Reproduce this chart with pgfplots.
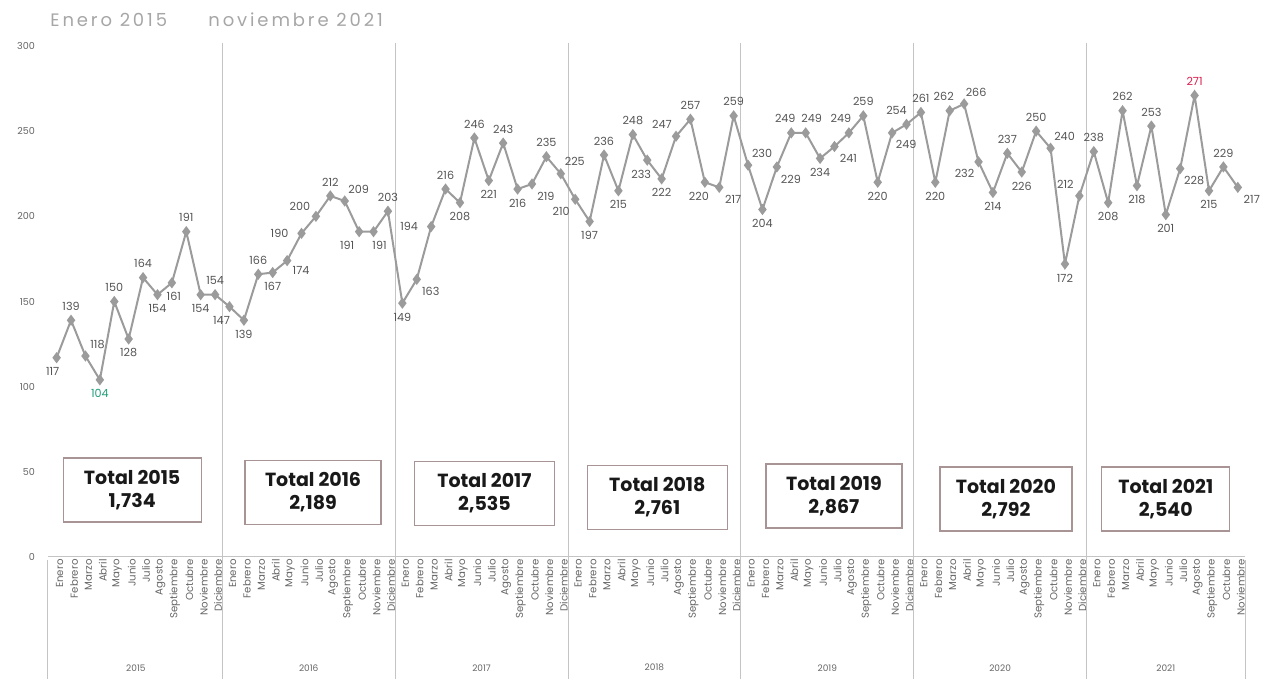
\documentclass[border=0pt]{standalone}
\usepackage{pgfplots}
\pgfplotsset{compat=1.18}
\usepackage{pgfplotstable}
\usepackage{fontspec}
\setmainfont{Poppins}
\newfontfamily\titlefont[LetterSpace=16]{Poppins}

\definecolor{linec}{HTML}{9B9B9B}
\definecolor{lab0}{HTML}{555555}
\definecolor{lab1}{HTML}{1E9E78}
\definecolor{lab2}{HTML}{D81E4E}
\definecolor{sepc}{HTML}{C4C4C4}
\definecolor{boxc}{HTML}{A89494}
\definecolor{tickc}{HTML}{666666}

\pgfplotstableread{
x y dx dy c
0 117 -2 -7 0
1 139 0 7 0
2 118 6 6 0
3 104 0 -7 1
4 150 0 7 0
5 128 0 -7 0
6 164 0 7 0
7 154 0 -7 0
8 161 1 -7 0
9 191 0 7 0
10 154 0 -7 0
11 154 0 7 0
12 147 -4 -7 0
13 139 0 -7 0
14 166 0 7 0
15 167 0 -7 0
16 174 7 -5 0
17 190 -11 0 0
18 200 -8 5 0
19 212 0 7 0
20 209 7 6 0
21 191 -6 -7 0
22 191 3 -7 0
23 203 0 7 0
24 149 0 -7 0
25 163 7 -6 0
26 194 -11 0 0
27 216 0 7 0
28 208 0 -7 0
29 246 0 7 0
30 221 0 -7 0
31 243 0 7 0
32 216 0 -7 0
33 219 7 -6 0
34 235 0 7 0
35 225 7 6 0
36 210 -7 -6 0
37 197 0 -7 0
38 236 0 7 0
39 215 0 -7 0
40 248 0 7 0
41 233 -3 -7 0
42 222 0 -7 0
43 247 -7 6 0
44 257 0 7 0
45 220 -3 -7 0
46 217 7 -6 0
47 259 0 7 0
48 230 7 6 0
49 204 0 -7 0
50 229 7 -6 0
51 249 -3 7 0
52 249 3 7 0
53 234 0 -7 0
54 241 7 -6 0
55 249 -4 7 0
56 259 0 7 0
57 220 0 -7 0
58 249 7 -6 0
59 254 -5 7 0
60 261 0 7 0
61 220 0 -7 0
62 262 -3 7 0
63 266 6 6 0
64 232 -7 -6 0
65 214 0 -7 0
66 237 0 7 0
67 226 0 -7 0
68 250 0 7 0
69 240 7 6 0
70 172 0 -7 0
71 212 -7 6 0
72 238 0 7 0
73 208 0 -7 0
74 262 0 7 0
75 218 0 -7 0
76 253 0 7 0
77 201 0 -7 0
78 228 7 -6 0
79 271 0 7 2
80 215 0 -7 0
81 229 0 7 0
82 217 7 -6 0
}\datatable

\begin{document}
\begin{tikzpicture}
\useasboundingbox (0,0) rectangle (631pt,339.5pt);
\begin{axis}[
  at={(24pt,61pt)}, anchor=south west,
  scale only axis, width=598.5pt, height=255.5pt,
  xmin=-0.6, xmax=82.5, ymin=0, ymax=300,
  clip=false,
  axis line style={draw=none},
  major tick length=0pt,
  /pgf/number format/assume math mode=true,
  ytick={0,50,...,300},
  yticklabel style={font=\fontsize{4.8}{5}\selectfont, text=tickc, xshift=-3pt},
  xtick={0,...,82},
  xticklabels={Enero,Febrero,Marzo,Abril,Mayo,Junio,Julio,Agosto,Septiembre,Octubre,Noviembre,Diciembre,
  Enero,Febrero,Marzo,Abril,Mayo,Junio,Julio,Agosto,Septiembre,Octubre,Noviembre,Diciembre,
  Enero,Febrero,Marzo,Abril,Mayo,Junio,Julio,Agosto,Septiembre,Octubre,Noviembre,Diciembre,
  Enero,Febrero,Marzo,Abril,Mayo,Junio,Julio,Agosto,Septiembre,Octubre,Noviembre,Diciembre,
  Enero,Febrero,Marzo,Abril,Mayo,Junio,Julio,Agosto,Septiembre,Octubre,Noviembre,Diciembre,
  Enero,Febrero,Marzo,Abril,Mayo,Junio,Julio,Agosto,Septiembre,Octubre,Noviembre,Diciembre,
  Enero,Febrero,Marzo,Abril,Mayo,Junio,Julio,Agosto,Septiembre,Octubre,Noviembre},
  xticklabel style={rotate=90, anchor=east, font=\fontsize{5.1}{5.5}\selectfont, text=tickc, inner sep=1pt, yshift=-1.5pt},
]
\draw[sepc, line width=0.5pt] (axis cs:-0.6,0) -- (axis cs:82.5,0);
\draw[sepc, line width=0.5pt] (axis cs:-0.6,-2) -- (axis cs:-0.6,-72);
\draw[sepc, line width=0.5pt] (axis cs:82.5,-2) -- (axis cs:82.5,-72);
\pgfplotsinvokeforeach{11.5,23.5,35.5,47.5,59.5,71.5}{
  \draw[sepc, line width=0.5pt] (axis cs:#1,302) -- (axis cs:#1,-72);
}
\node[font=\fontsize{4.5}{5}\selectfont, text=tickc] at (axis cs:5.5,-65) {2015};
\node[font=\fontsize{4.5}{5}\selectfont, text=tickc] at (axis cs:17.5,-65) {2016};
\node[font=\fontsize{4.5}{5}\selectfont, text=tickc] at (axis cs:29.5,-65) {2017};
\node[font=\fontsize{4.5}{5}\selectfont, text=tickc] at (axis cs:41.5,-65) {2018};
\node[font=\fontsize{4.5}{5}\selectfont, text=tickc] at (axis cs:53.5,-65) {2019};
\node[font=\fontsize{4.5}{5}\selectfont, text=tickc] at (axis cs:65.5,-65) {2020};
\node[font=\fontsize{4.5}{5}\selectfont, text=tickc] at (axis cs:77,-65) {2021};

\addplot[color=linec, line width=1pt, mark=diamond*, mark size=2pt,
  mark options={fill=linec, draw=linec},
  nodes near coords,
  visualization depends on={\thisrow{dx} \as \ldx},
  visualization depends on={\thisrow{dy} \as \ldy},
  visualization depends on={\thisrow{c} \as \lc},
  every node near coord/.append style={anchor=center, xshift=\ldx pt, yshift=\ldy pt, /utils/exec={\pgfmathtruncatemacro\lci{\lc}}, text=lab\lci, font=\fontsize{5.6}{6}\selectfont, inner sep=0pt},
] table[x=x, y=y] {\datatable};

\tikzset{totbox/.style={draw=boxc, line width=0.6pt, fill=white, minimum width=69pt, minimum height=32pt, align=center, font=\fontsize{9.5}{11.5}\selectfont\bfseries, text=black!90, inner sep=2pt}}
\node[totbox] at (axis cs:5.24,39.3) {Total 2015\\1,734};
\node[totbox, minimum width=68pt] at (axis cs:17.8,37.9) {Total 2016\\2,189};
\node[totbox, minimum width=70pt] at (axis cs:29.7,37.3) {Total 2017\\2,535};
\node[totbox, minimum width=70pt] at (axis cs:41.7,34.9) {Total 2018\\2,761};
\node[totbox, minimum width=68pt] at (axis cs:53.96,35.8) {Total 2019\\2,867};
\node[totbox, minimum width=66pt] at (axis cs:65.9,34.1) {Total 2020\\2,792};
\node[totbox, minimum width=64pt] at (axis cs:77.0,34.1) {Total 2021\\2,540};
\end{axis}
\node[anchor=base west, inner sep=0pt, font=\titlefont\fontsize{9}{9.5}\selectfont, text=black!35] at (25pt,326pt) {Enero 2015};
\node[anchor=base west, inner sep=0pt, font=\titlefont\fontsize{9}{9.5}\selectfont, text=black!35] at (104pt,326pt) {noviembre 2021};
\end{tikzpicture}
\end{document}
